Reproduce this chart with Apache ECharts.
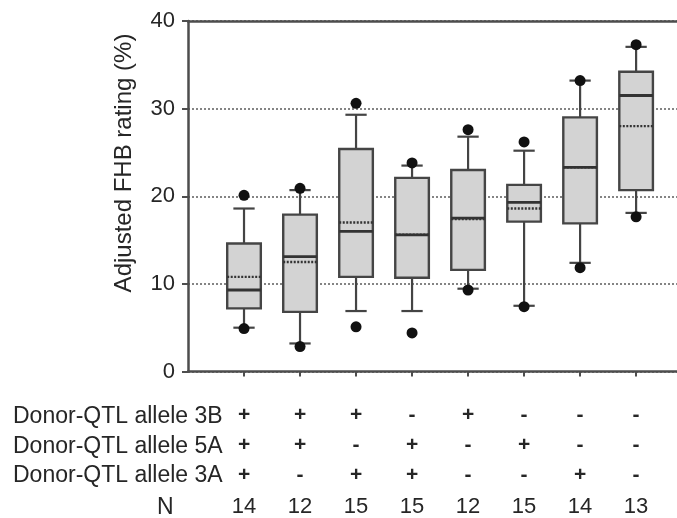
<!DOCTYPE html>
<html>
<head>
<meta charset="utf-8">
<script src="https://cdn.jsdelivr.net/npm/echarts@6/dist/echarts.min.js"></script>
<style>
  html, body { margin: 0; padding: 0; background: #fff; }
  #chart { width: 677px; height: 518px; }
</style>
</head>
<body>
<div id="chart"></div>
<script>
// Genotype groups (x positions 1..8) and their donor-QTL allele combinations
const groups = [1, 2, 3, 4, 5, 6, 7, 8];
const allele3B = ['+', '+', '+', '-', '+', '-', '-', '-'];
const allele5A = ['+', '+', '-', '+', '-', '+', '-', '-'];
const allele3A = ['+', '-', '+', '+', '-', '-', '+', '-'];
const nCounts = [14, 12, 15, 15, 12, 15, 14, 13];

// Box-plot statistics of adjusted FHB rating (%)
const whiskerLow  = [5.0, 3.2, 6.9, 6.9, 9.45, 7.5, 12.4, 18.1];
const quartile1   = [7.2, 6.8, 10.8, 10.7, 11.6, 17.1, 16.9, 20.7];
const medians     = [9.3, 13.1, 16.0, 15.6, 17.5, 19.3, 23.3, 31.5];
const quartile3   = [14.6, 17.9, 25.4, 22.1, 23.0, 21.3, 29.0, 34.2];
const whiskerHigh = [18.6, 20.7, 29.3, 23.5, 26.8, 25.2, 33.2, 37.05];
const means       = [10.8, 12.5, 17.0, 15.6, 17.4, 18.6, 23.3, 28.0];
const outlierLow  = [4.9, 2.85, 5.1, 4.4, 9.3, 7.4, 11.85, 17.65];
const outlierHigh = [20.1, 20.9, 30.6, 23.8, 27.6, 26.2, 33.2, 37.3];

const yTicks = [0, 10, 20, 30, 40];

const FONT = '"Liberation Sans", Arial, Helvetica, sans-serif';
const TEXT = '#262626';
const AXIS = '#4d4d4d';

const boxData = groups.map((g, i) => [
  g, whiskerLow[i], quartile1[i], medians[i], quartile3[i],
  whiskerHigh[i], means[i], outlierLow[i], outlierHigh[i]
]);

function renderBox(params, api) {
  const x = api.value(0);
  const unit = api.size([1, 0])[0];
  const halfBox = unit * 0.3;
  const halfCap = unit * 0.19;
  const py = k => api.coord([x, api.value(k)])[1];
  const cx = api.coord([x, 0])[0];
  const yLo = py(1), yQ1 = py(2), yMed = py(3), yQ3 = py(4),
        yHi = py(5), yMean = py(6), yOutLo = py(7), yOutHi = py(8);
  const line = (x1, y1, x2, y2, extra) => ({
    type: 'line',
    shape: { x1, y1, x2, y2 },
    style: Object.assign({ stroke: '#444444', lineWidth: 2.2 }, extra || {})
  });
  const dot = y => ({
    type: 'circle',
    shape: { cx, cy: y, r: 5.5 },
    style: { fill: '#111111' }
  });
  return {
    type: 'group',
    children: [
      line(cx, yLo, cx, yQ1),
      line(cx, yQ3, cx, yHi),
      {
        type: 'rect',
        shape: { x: cx - halfBox, y: yQ3, width: halfBox * 2, height: yQ1 - yQ3 },
        style: { fill: '#d3d3d3', stroke: '#454545', lineWidth: 2.4 }
      },
      line(cx - halfBox, yMed, cx + halfBox, yMed, { stroke: '#333333', lineWidth: 2.8 }),
      line(cx - halfBox, yMean, cx + halfBox, yMean, { stroke: '#333333', lineWidth: 2.4, lineDash: [2, 1.5] }),
      line(cx - halfCap, yLo, cx + halfCap, yLo),
      line(cx - halfCap, yHi, cx + halfCap, yHi),
      dot(yOutLo),
      dot(yOutHi)
    ]
  };
}

const chart = echarts.init(document.getElementById('chart'), null, { renderer: 'canvas' });

chart.setOption({
  animation: false,
  backgroundColor: '#ffffff',
  grid: { left: 188, right: 0, top: 21, bottom: 146 },
  xAxis: [
    {
      type: 'value',
      min: 0,
      max: 8.73,
      interval: 1,
      splitLine: { show: false },
      axisLine: { show: true, lineStyle: { color: AXIS, width: 2.5 } },
      axisTick: {
        show: true, length: 5, customValues: groups,
        lineStyle: { color: AXIS, width: 2 }
      },
      axisLabel: {
        show: true,
        customValues: groups,
        margin: 29,
        formatter: v => {
          const i = Math.round(v) - 1;
          if (i < 0 || i >= groups.length || Math.abs(v - Math.round(v)) > 1e-6) return '';
          return '{s|' + allele3B[i] + '}\n{s|' + allele5A[i] + '}\n{s|' + allele3A[i] + '}\n{n|' + nCounts[i] + '}';
        },
        rich: {
          s: { fontFamily: FONT, fontSize: 21, fontWeight: 'bold', color: TEXT, lineHeight: 30, align: 'center' },
          n: { fontFamily: FONT, fontSize: 22, color: TEXT, lineHeight: 33, align: 'center' }
        }
      }
    },
    {
      type: 'value',
      position: 'top',
      min: 0,
      max: 8.73,
      axisLine: { show: true, lineStyle: { color: AXIS, width: 2.5 } },
      axisTick: { show: false },
      axisLabel: { show: false },
      splitLine: { show: false }
    }
  ],
  yAxis: {
    type: 'value',
    min: yTicks[0],
    max: yTicks[yTicks.length - 1],
    interval: 10,
    axisLine: { show: true, lineStyle: { color: AXIS, width: 2.5 } },
    axisTick: { show: true, length: 6, lineStyle: { color: AXIS, width: 2 } },
    axisLabel: { fontFamily: FONT, fontSize: 22, color: TEXT, margin: 13 },
    splitLine: { show: true, lineStyle: { color: '#666666', width: 1.6, type: [2, 2] } }
  },
  graphic: [
    {
      type: 'text', x: 124, y: 163, rotation: Math.PI / 2,
      style: { text: 'Adjusted FHB rating (%)', font: '24px ' + FONT, fill: TEXT, textAlign: 'center', textVerticalAlign: 'middle' }
    },
    { type: 'text', x: 13, y: 417, style: { text: 'Donor-QTL allele 3B', font: '23px ' + FONT, fill: TEXT, textVerticalAlign: 'middle' } },
    { type: 'text', x: 13, y: 447, style: { text: 'Donor-QTL allele 5A', font: '23px ' + FONT, fill: TEXT, textVerticalAlign: 'middle' } },
    { type: 'text', x: 13, y: 476, style: { text: 'Donor-QTL allele 3A', font: '23px ' + FONT, fill: TEXT, textVerticalAlign: 'middle' } },
    { type: 'text', x: 157, y: 508, style: { text: 'N', font: '23px ' + FONT, fill: TEXT, textVerticalAlign: 'middle' } }
  ],
  series: [
    {
      type: 'custom',
      renderItem: renderBox,
      data: boxData,
      encode: { x: 0, y: [1, 2, 3, 4, 5, 6, 7, 8] },
      clip: false,
      z: 5
    }
  ]
});
</script>
</body>
</html>
